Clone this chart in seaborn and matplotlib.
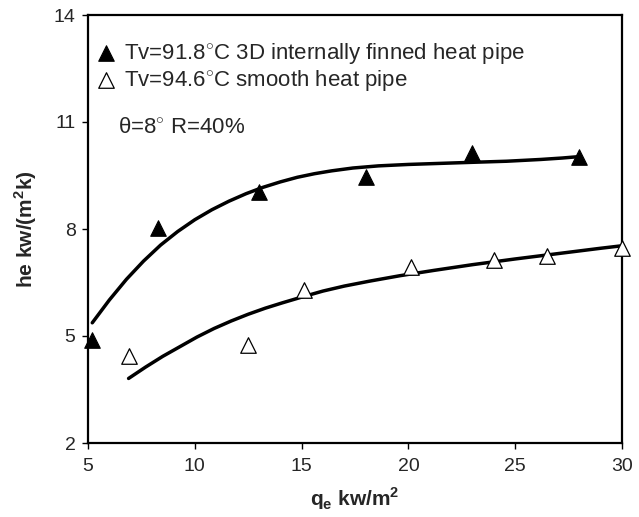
import pandas as pd
import seaborn as sns
import matplotlib.pyplot as plt

sns.set_style("white")
plt.rcParams['font.family'] = ['Liberation Sans', 'DejaVu Sans']
plt.rcParams['mathtext.fontset'] = 'custom'
plt.rcParams['mathtext.rm'] = 'Liberation Sans'
plt.rcParams['mathtext.bf'] = 'Liberation Sans:bold'

# measured points, finned heat pipe (Tv=91.8 C)
q_finned = [5.2, 8.3, 13.0, 18.0, 23.0, 28.0]
he_finned = [4.9, 8.02, 9.05, 9.47, 10.14, 10.03]
# measured points, smooth heat pipe (Tv=94.6 C)
q_smooth = [6.9, 12.5, 15.1, 20.1, 24.0, 26.5, 30.0]
he_smooth = [4.44, 4.75, 6.29, 6.94, 7.13, 7.24, 7.47]

# trend lines
trend_q_finned = [5.2, 6.0, 6.8, 7.6, 8.4, 9.2, 10.0, 10.8, 11.6, 12.4, 13.2,
                  14.0, 14.8, 15.6, 16.4, 17.4, 18.6, 20.0, 21.5, 23.0, 24.6,
                  26.2, 27.2, 28.0]
trend_he_finned = [5.37, 6.01, 6.59, 7.10, 7.55, 7.93, 8.26, 8.54, 8.78, 8.99,
                   9.17, 9.32, 9.45, 9.55, 9.63, 9.71, 9.77, 9.81, 9.84, 9.87,
                   9.90, 9.95, 9.99, 10.03]
trend_q_smooth = [6.9, 7.7, 8.5, 9.3, 10.1, 10.9, 11.7, 12.5, 13.3, 14.1, 15.0,
                  16.0, 17.0, 18.2, 19.6, 21.2, 23.0, 25.0, 27.0, 29.0, 30.0]
trend_he_smooth = [3.81, 4.13, 4.43, 4.70, 4.97, 5.21, 5.42, 5.61, 5.78, 5.93,
                   6.09, 6.26, 6.40, 6.54, 6.69, 6.84, 7.0, 7.16, 7.31, 7.46, 7.53]

fin = pd.DataFrame({"q": q_finned, "he": he_finned})
smo = pd.DataFrame({"q": q_smooth, "he": he_smooth})
fit_fin = pd.DataFrame({"q": trend_q_finned, "he": trend_he_finned})
fit_smo = pd.DataFrame({"q": trend_q_smooth, "he": trend_he_smooth})

fig = plt.figure(figsize=(6.39, 5.17), dpi=100)
ax = fig.add_axes([88 / 639, 1 - 443 / 517, 534 / 639, 428 / 517])

sns.lineplot(data=fit_fin, x="q", y="he", ax=ax, color="black", lw=2.5, sort=False)
sns.lineplot(data=fit_smo, x="q", y="he", ax=ax, color="black", lw=2.5, sort=False)
sns.scatterplot(data=fin, x="q", y="he", ax=ax, marker="^", s=125, color="black",
                edgecolor="black", linewidth=0.8, clip_on=False, zorder=5,
                label="Tv=91.8$^{\\circ}$C 3D internally finned heat pipe")
sns.scatterplot(data=smo, x="q", y="he", ax=ax, marker="^", s=125, color="white",
                edgecolor="black", linewidth=0.9, clip_on=False, zorder=5,
                label="Tv=94.6$^{\\circ}$C smooth heat pipe")

ax.set_xlim(5, 30)
ax.set_ylim(2, 14)
ax.set_xticks([5, 10, 15, 20, 25, 30])
ax.set_yticks([2, 5, 8, 11, 14])
ax.tick_params(axis="both", direction="out", length=4, width=1, labelsize=14,
               left=True, bottom=True, color="black")
ax.tick_params(axis="x", pad=7)
ax.tick_params(axis="y", pad=5)
for sp in ax.spines.values():
    sp.set_linewidth(1.6)
    sp.set_color("black")

ax.set_xlabel("q$_\\mathbf{e}$ kw/m$^\\mathbf{2}$", fontsize=15, fontweight="bold")
ax.set_ylabel("he kw/(m$^\\mathbf{2}$k)", fontsize=15, fontweight="bold")
ax.xaxis.set_label_coords(0.5, -0.1)
ax.yaxis.set_label_coords(-0.092, 0.5)

ax.text(6.4, 10.85, "\u03b8=8$^{\\circ}$ R=40%", fontsize=16, va="center", ha="left")

ax.legend(loc="upper left", bbox_to_anchor=(0.0, 0.96), frameon=False, fontsize=16,
          handletextpad=0.4, borderaxespad=0.0, labelspacing=0.1,
          handlelength=0.82, borderpad=0.4)

fig.savefig("out.png", dpi=100)
